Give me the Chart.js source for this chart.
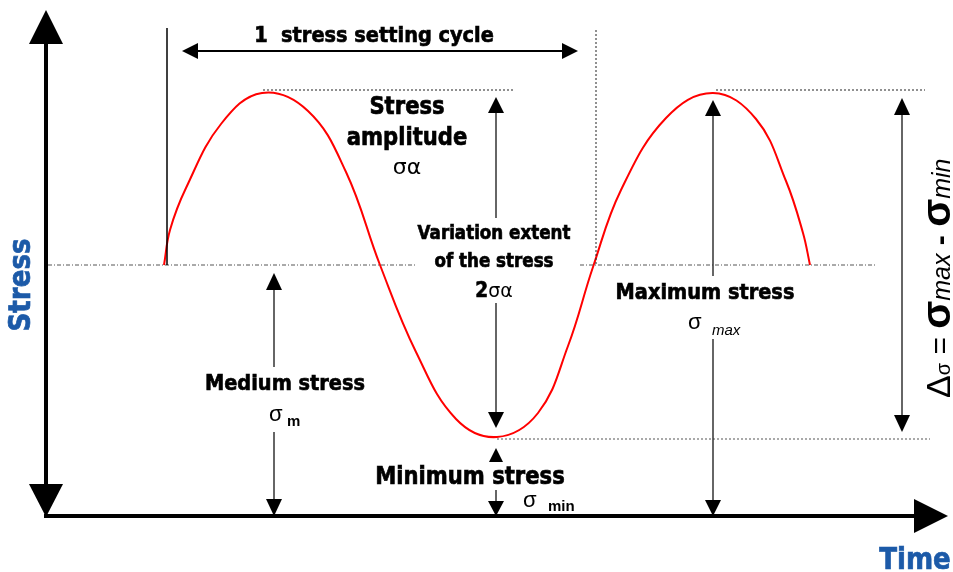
<!DOCTYPE html>
<html>
<head>
<meta charset="utf-8">
<script src="https://cdn.jsdelivr.net/npm/chart.js@4"></script>
<style>
  html, body { margin: 0; padding: 0; background: #fff; }
  #wrap { width: 953px; height: 572px; }
</style>
</head>
<body>
<div id="wrap"><canvas id="stressChart" width="953" height="572"></canvas></div>
<script>
// samples (time, stress), origin at the axis corner
const curveTime   = [118, 124, 140, 175, 216, 262, 300, 334, 370, 410, 451, 492, 522, 547, 575, 620, 667, 710, 740, 757, 764];
const curveStress = [251, 286, 328, 392, 423, 405, 344, 251, 164, 97, 79, 103, 170, 249, 326, 398, 423, 397, 335, 283, 251];

// reference levels
const stressMax = 425;
const stressMean = 251;
const stressMin = 77;
const cycleStart = 121;
const cycleEnd = 550;
const timeRange = [-46, 907];
const stressRange = [-56, 516];

const BLUE = '#1c5aa8';
const BOLD = '"DejaVu Sans", "Liberation Sans", sans-serif';
const AR = '"Liberation Sans", sans-serif';

function head(ctx, x, y, dir, len, half) {
    // x,y = tip
    ctx.beginPath();
    ctx.moveTo(x, y);
    if (dir === 'up') { ctx.lineTo(x - half, y + len); ctx.lineTo(x + half, y + len); }
    if (dir === 'down') { ctx.lineTo(x - half, y - len); ctx.lineTo(x + half, y - len); }
    if (dir === 'left') { ctx.lineTo(x + len, y - half); ctx.lineTo(x + len, y + half); }
    if (dir === 'right') { ctx.lineTo(x - len, y - half); ctx.lineTo(x - len, y + half); }
    ctx.closePath();
    ctx.fill();
}

function line(ctx, x1, y1, x2, y2, width, color, dash) {
    ctx.save();
    ctx.strokeStyle = color;
    ctx.lineWidth = width;
    ctx.setLineDash(dash || []);
    ctx.beginPath();
    ctx.moveTo(x1, y1);
    ctx.lineTo(x2, y2);
    ctx.stroke();
    ctx.restore();
}

// squeezed text to mimic a narrow heavy face
function label(ctx, text, x, y, size, opts) {
    opts = opts || {};
    const weight = opts.weight || 'bold';
    ctx.save();
    ctx.font = (opts.style || '') + ' ' + weight + ' ' + size + 'px ' + (opts.family || BOLD);
    ctx.fillStyle = opts.color || '#000';
    ctx.strokeStyle = opts.color || '#000';
    ctx.textBaseline = opts.baseline || 'middle';
    ctx.textAlign = 'left';
    const sq = opts.squeeze || 0.88;
    const w = ctx.measureText(text).width * sq;
    let left = x;
    if ((opts.align || 'center') === 'center') left = x - w / 2;
    ctx.translate(left, y);
    ctx.scale(sq, 1);
    ctx.fillText(text, 0, 0);
    if (weight === 'bold' && !opts.thin) {
        ctx.lineWidth = 0.7;
        ctx.strokeText(text, 0, 0);
    }
    ctx.restore();
    return w;
}

const decorations = {
    id: 'decorations',
    afterDatasetsDraw(chart) {
        const ctx = chart.ctx;
        const X = v => chart.scales.x.getPixelForValue(v);
        const Y = v => chart.scales.y.getPixelForValue(v);
        const x0 = X(0), y0 = Y(0);
        const yMax = Y(stressMax), yMean = Y(stressMean), yMin = Y(stressMin);
        const xStart = X(cycleStart), xEnd = X(cycleEnd);
        const ampX = X(450), medX = X(228), maxX = X(667), delX = X(856);

        // guide lines
        line(ctx, x0 + 2, yMean, 417, yMean, 1, '#555', [4, 2, 1, 2]);
        line(ctx, 580, yMean, 877, yMean, 1, '#555', [4, 2, 1, 2]);
        line(ctx, 263, yMax - 1, 515, yMax - 1, 1, '#222', [2, 2]);
        line(ctx, 716, yMax - 1, 925, yMax - 1, 1, '#222', [2, 2]);
        line(ctx, X(451), yMin, 930, yMin, 1, '#555', [2, 2]);
        line(ctx, xStart, 28, xStart, yMean, 1.5, '#000');
        line(ctx, xEnd, 30, xEnd, yMean, 1, '#222', [2, 2]);

        ctx.fillStyle = '#000';
        // cycle arrow
        line(ctx, 196, 51, 565, 51, 2, '#000');
        head(ctx, 182, 51, 'left', 16, 8);
        head(ctx, 578, 51, 'right', 16, 8);

        // amplitude / variation arrow
        line(ctx, ampX, yMax + 20, ampX, 218, 1.5, '#333');
        line(ctx, ampX, 303, ampX, yMin - 25, 1.5, '#333');
        head(ctx, ampX, yMax + 6, 'up', 16, 8);
        head(ctx, ampX, yMin - 11, 'down', 16, 8);

        // minimum arrows
        head(ctx, ampX, yMin + 9, 'up', 14, 7);
        line(ctx, ampX, 490, ampX, 504, 1.5, '#333');
        head(ctx, ampX, y0, 'down', 15, 8);

        // medium arrows
        line(ctx, medX, yMean + 20, medX, 367, 1.5, '#333');
        head(ctx, medX, yMean + 8, 'up', 17, 8);
        line(ctx, medX, 432, medX, y0 - 12, 1.5, '#333');
        head(ctx, medX, y0, 'down', 17, 8);

        // maximum arrows
        line(ctx, maxX, yMax + 20, maxX, 276, 1.5, '#333');
        head(ctx, maxX, yMax + 9, 'up', 16, 8);
        line(ctx, maxX, 339, maxX, y0 - 12, 1.5, '#333');
        head(ctx, maxX, y0, 'down', 16, 8);

        // delta arrow
        line(ctx, delX, yMax + 20, delX, yMin - 20, 1.5, '#333');
        head(ctx, delX, yMax + 7, 'up', 17, 8);
        head(ctx, delX, yMin - 7, 'down', 17, 8);

        // axes
        line(ctx, x0, 40, x0, 488, 4, '#000');
        line(ctx, x0 - 2, y0, 916, y0, 4, '#000');
        head(ctx, x0, 10, 'up', 34, 17);
        head(ctx, x0, y0 + 1, 'down', 33, 17);
        head(ctx, 948, y0, 'right', 34, 17);

        // texts
        label(ctx, '1  stress setting cycle', 374, 36, 22);
        label(ctx, 'Stress', 407, 108, 24);
        label(ctx, 'amplitude', 407, 139, 24);
        label(ctx, 'σα', 407, 168, 22, { weight: 'normal', squeeze: 1 });

        label(ctx, 'Variation extent', 494, 234, 19);
        label(ctx, 'of the stress', 494, 262, 19);
        ctx.save();
        ctx.font = 'bold 21px ' + BOLD;
        const w2 = ctx.measureText('2').width * 0.88;
        ctx.font = 'normal 19px ' + BOLD;
        const wsa = ctx.measureText('σα').width;
        ctx.restore();
        const start2 = 494 - (w2 + wsa) / 2;
        label(ctx, '2', start2, 292, 21, { align: 'left' });
        label(ctx, 'σα', start2 + w2, 292, 19, { align: 'left', weight: 'normal', squeeze: 1 });

        label(ctx, 'Maximum stress', 705, 293, 22);
        label(ctx, 'σ', 688, 323, 22, { align: 'left', weight: 'normal', family: AR, squeeze: 1 });
        label(ctx, 'max', 712, 331, 15, { align: 'left', weight: 'normal', style: 'italic', family: AR, squeeze: 1 });

        label(ctx, 'Medium stress', 285, 384, 22);
        label(ctx, 'σ', 269, 415, 22, { align: 'left', weight: 'normal', family: AR, squeeze: 1 });
        label(ctx, 'm', 287, 422, 15, { align: 'left', family: AR, squeeze: 1, thin: true });

        label(ctx, 'Minimum stress', 470, 478, 24);
        label(ctx, 'σ', 523, 501, 22, { align: 'left', weight: 'normal', family: AR, squeeze: 1 });
        label(ctx, 'min', 548, 507, 15, { align: 'left', family: AR, squeeze: 1, thin: true });

        // axis titles
        ctx.save();
        ctx.translate(22, 285);
        ctx.rotate(-Math.PI / 2);
        label(ctx, 'Stress', 0, 0, 30, { color: BLUE, squeeze: 0.87 });
        ctx.restore();
        label(ctx, 'Time', 915, 561, 30, { color: BLUE, squeeze: 0.87 });

        // delta formula, rotated
        ctx.save();
        ctx.translate(950, 398);
        ctx.rotate(-Math.PI / 2);
        let cx = 0;
        const part = (t, size, o) => {
            cx += label(ctx, t, cx, 0, size, Object.assign({ align: 'left', baseline: 'alphabetic', family: AR, squeeze: 1, weight: 'normal' }, o));
        };
        part('Δ', 34);
        part('σ', 20);
        part(' = ', 30);
        part('σ', 41, { weight: 'bold', thin: true });
        part('max', 25, { style: 'italic' });
        part(' - ', 30, { weight: 'bold', thin: true });
        part('σ', 41, { weight: 'bold', thin: true });
        part('min', 25, { style: 'italic' });
        ctx.restore();
    }
};

new Chart(document.getElementById('stressChart'), {
    type: 'scatter',
    data: {
        datasets: [{
            data: curveTime.map((t, i) => ({ x: t, y: curveStress[i] })),
            showLine: true,
            borderColor: '#ff0000',
            borderWidth: 2,
            pointRadius: 0,
            tension: 0.4,
            fill: false
        }]
    },
    options: {
        responsive: false,
        animation: false,
        layout: { padding: 0 },
        plugins: { legend: { display: false }, tooltip: { enabled: false } },
        scales: {
            x: { type: 'linear', min: timeRange[0], max: timeRange[1], display: false },
            y: { type: 'linear', min: stressRange[0], max: stressRange[1], display: false }
        }
    },
    plugins: [decorations]
});
</script>
</body>
</html>
